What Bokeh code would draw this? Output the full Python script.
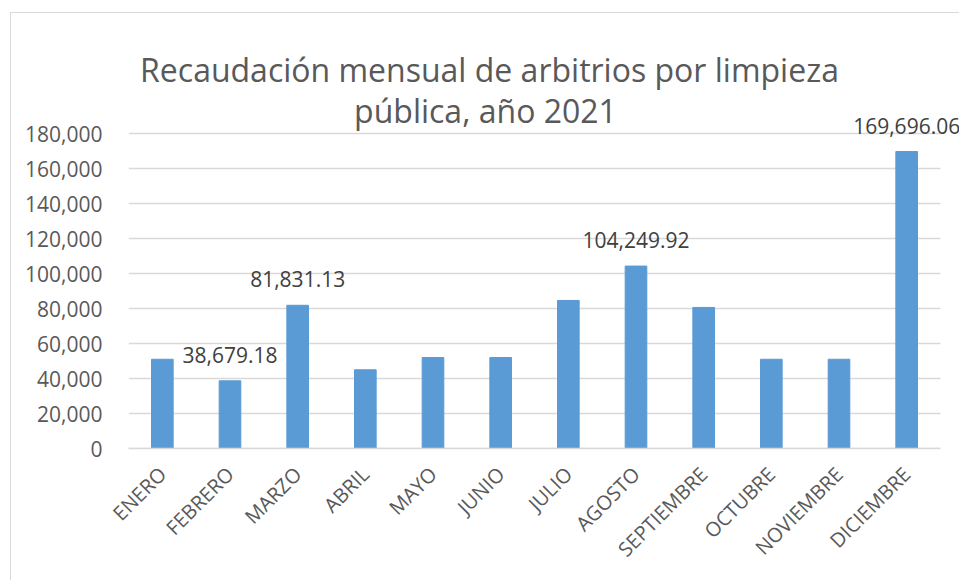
from bokeh.plotting import figure
from bokeh.models import ColumnDataSource, Label, FixedTicker, NumeralTickFormatter, Range1d
from bokeh.embed import file_html
from bokeh.resources import INLINE
from math import pi

months = ["ENERO", "FEBRERO", "MARZO", "ABRIL", "MAYO", "JUNIO", "JULIO",
          "AGOSTO", "SEPTIEMBRE", "OCTUBRE", "NOVIEMBRE", "DICIEMBRE"]
values = [51000, 38679.18, 81831.13, 45000, 52000, 52000, 84600,
          104249.92, 80600, 51000, 51000, 169696.06]
labels = ["", "38,679.18", "81,831.13", "", "", "", "",
          "104,249.92", "", "", "", "169,696.06"]
y_ticks = [0, 20000, 40000, 60000, 80000, 100000, 120000, 140000, 160000, 180000]
title_lines = ["Recaudación mensual de arbitrios por limpieza", "pública, año 2021"]

FONT = "Open Sans"
n = len(months)
xs = [i + 0.5 for i in range(n)]          # category centres
src = ColumnDataSource(dict(x=xs, m=months, v=values))

# plot frame spans the whole canvas so texts above/right of the bars are not clipped;
# the category area occupies 812 px of the 832 px frame width, and 0..180,000 takes 315 of 435 px
x_end = n * 832 / 812
y_end = y_ticks[-1] * 435 / 315

p = figure(x_range=Range1d(0, x_end), y_range=Range1d(0, y_end),
           width=949, height=568, output_backend="svg", toolbar_location=None,
           min_border_left=117, min_border_right=0, min_border_top=0, min_border_bottom=133)
p.margin = (12, 0, 0, 10)
p.styles = {"border-left": "1px solid #d9d9d9", "border-top": "1px solid #d9d9d9"}
p.outline_line_color = None
p.background_fill_color = "white"
p.border_fill_color = "white"

# horizontal grid lines across the category area only
p.segment(x0=0, x1=n, y0=y_ticks, y1=y_ticks, line_color="#d9d9d9", line_width=1.5)

p.vbar(x="x", top="v", width=0.32, source=src, color="#5B9BD5")

for x, v, lab in zip(xs, values, labels):
    if lab:
        p.add_layout(Label(x=x, y=v, text=lab, text_align="center",
                           text_baseline="alphabetic", y_offset=26, text_font=FONT,
                           text_font_size="21px", text_color="#404040"))

title_pos = [(361, 379), (357, 338)]
for t, (tx, ty) in zip(title_lines, title_pos):
    p.add_layout(Label(x=tx, y=ty, x_units="screen", y_units="screen", text=t,
                       text_align="center", text_baseline="alphabetic", text_font=FONT,
                       text_font_size="32px", text_color="#595959"))

p.yaxis.ticker = FixedTicker(ticks=y_ticks)
p.yaxis.formatter = NumeralTickFormatter(format="0,0")
p.yaxis.axis_line_color = None
p.yaxis.major_tick_line_color = None
p.yaxis.minor_tick_line_color = None
p.yaxis.major_label_text_font = FONT
p.yaxis.major_label_text_font_size = "21px"
p.yaxis.major_label_text_color = "#595959"
p.yaxis.major_label_standoff = 20

p.xaxis.ticker = FixedTicker(ticks=xs)
p.xaxis.major_label_overrides = {x: m for x, m in zip(xs, months)}
p.xaxis.bounds = (0, n)
p.xaxis.axis_line_color = "#d9d9d9"
p.xaxis.axis_line_width = 1.5
p.xaxis.major_tick_line_color = None
p.xaxis.minor_tick_line_color = None
p.xaxis.major_label_orientation = pi / 4
p.xaxis.major_label_text_font = FONT
p.xaxis.major_label_text_font_size = "20px"
p.xaxis.major_label_text_color = "#595959"
p.xaxis.major_label_standoff = 16

p.xgrid.grid_line_color = None
p.ygrid.grid_line_color = None

open("out.html", "w").write(file_html(p, INLINE))
